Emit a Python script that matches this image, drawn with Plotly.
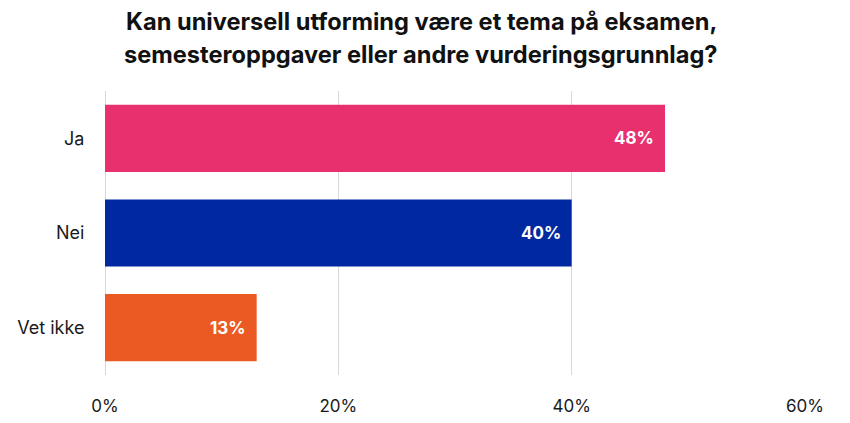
import plotly.graph_objects as go

# survey answers, share in percent
answers = ["Ja", "Nei", "Vet ikke"]
shares = [48, 40, 13]
bar_colors = ["#E8306F", "#0028A0", "#EB5A22"]
tick_vals = [0, 20, 40, 60]
tick_text = ["0%", "20%", "40%", "60%"]
title_lines = ["Kan universell utforming være et tema på eksamen,",
               "semesteroppgaver eller andre vurderingsgrunnlag?"]

font_name = "Inter, Open Sans, sans-serif"

# page body adds an 8px offset, so the plot box is shifted to compensate
W, H = 850, 423
L, R, T, B = 97, 53, 83, 56

fig = go.Figure()
fig.add_trace(go.Bar(
    x=shares,
    y=answers,
    orientation="h",
    marker=dict(color=bar_colors, line=dict(width=0)),
    hoverinfo="skip",
))

# value labels inside the bar ends
for ans, val in zip(answers, shares):
    fig.add_annotation(
        x=val, y=ans, xref="x", yref="y",
        text=f"<b>{val}%</b>", showarrow=False,
        xanchor="right", xshift=-9,
        font=dict(family=font_name, size=17, color="white"),
    )

# two title lines, spaced like the original (pixel centres -> paper coords)
for i, line in enumerate(title_lines):
    px_x, px_y = 413, 13 + i * 34
    fig.add_annotation(
        x=(px_x - L) / (W - L - R), y=1 + (T - px_y) / (H - T - B),
        xref="paper", yref="paper",
        xanchor="center", yanchor="middle",
        text=f"<b>{line}</b>", showarrow=False,
        font=dict(family=font_name, size=23.6, color="#111111"),
    )

fig.update_layout(
    width=W, height=H,
    margin=dict(l=L, r=R, t=T, b=B, autoexpand=False),
    plot_bgcolor="white",
    paper_bgcolor="white",
    bargap=0.29,
    showlegend=False,
    font=dict(family=font_name, size=16, color="#1a1a1a"),
    xaxis=dict(
        range=[0, 60],
        tickvals=tick_vals,
        ticktext=tick_text,
        showgrid=True,
        gridcolor="#d9d9d9",
        gridwidth=1,
        zeroline=True,
        zerolinecolor="#d9d9d9",
        zerolinewidth=1,
        showline=False,
        ticks="outside",
        ticklen=16,
        tickcolor="rgba(0,0,0,0)",
        tickfont=dict(size=17),
        automargin=False,
        fixedrange=True,
    ),
    yaxis=dict(
        autorange="reversed",
        showgrid=False,
        zeroline=False,
        ticks="outside",
        ticklen=16,
        tickcolor="rgba(0,0,0,0)",
        tickfont=dict(size=18),
        automargin=False,
        fixedrange=True,
    ),
)

fig.write_html("out.html")
